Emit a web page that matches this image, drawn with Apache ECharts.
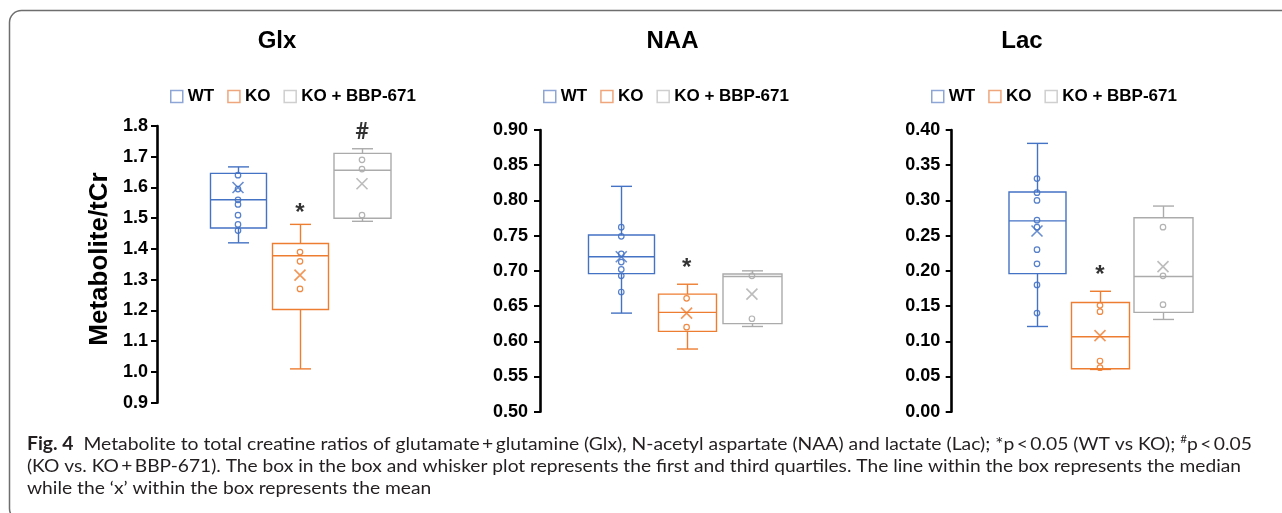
<!DOCTYPE html>
<html>
<head>
<meta charset="utf-8">
<script src="https://cdn.jsdelivr.net/npm/echarts@6/dist/echarts.min.js"></script>
<style>
html,body{margin:0;padding:0;background:#fff;}
#chart{width:1282px;height:513px;}
</style>
</head>
<body>
<div id="chart"></div>
<script>
// ---------- data ----------
const groups = ['WT', 'KO', 'KO + BBP-671'];
const panelTitles = ['Glx', 'NAA', 'Lac'];

// box stats: [min, Q1, median, Q3, max] per group
const glxBox = [[1.42, 1.468, 1.56, 1.646, 1.667], [1.01, 1.203, 1.378, 1.418, 1.48], [1.49, 1.50, 1.656, 1.711, 1.726]];
const glxMean = [1.60, 1.315, 1.612];
const glxPtsWT = [1.64, 1.595, 1.56, 1.545, 1.51, 1.48, 1.46];
const glxPtsKO = [1.39, 1.36, 1.27];
const glxPtsBBP = [1.69, 1.66, 1.51];

const naaBox = [[0.64, 0.696, 0.72, 0.751, 0.82], [0.589, 0.614, 0.641, 0.667, 0.681], [0.621, 0.625, 0.692, 0.6955, 0.70]];
const naaMean = [0.72, 0.64, 0.667];
const naaPtsWT = [0.762, 0.749, 0.724, 0.7125, 0.702, 0.693, 0.67];
const naaPtsKO = [0.661, 0.62];
const naaPtsBBP = [0.693, 0.632];

const lacBox = [[0.121, 0.196, 0.271, 0.312, 0.381], [0.06, 0.061, 0.1065, 0.155, 0.171], [0.131, 0.141, 0.192, 0.2755, 0.292]];
const lacMean = [0.2566, 0.108, 0.206];
const lacPtsWT = [0.331, 0.311, 0.30, 0.272, 0.262, 0.23, 0.21, 0.18, 0.14];
const lacPtsKO = [0.151, 0.142, 0.072, 0.0625];
const lacPtsBBP = [0.262, 0.193, 0.152];

// significance marks: [group index, value, symbol]
const glxMarks = [[1, 1.533, '*'], [2, 1.777, '#']];
const naaMarks = [[1, 0.711, '*']];
const lacMarks = [[1, 0.20, '*']];

// y axis ticks
const glxTicks = { min: 0.9, max: 1.8, interval: 0.1, digits: 1 };
const naaTicks = { min: 0.5, max: 0.9, interval: 0.05, digits: 2 };
const lacTicks = { min: 0.0, max: 0.4, interval: 0.05, digits: 2 };

const yName = 'Metabolite/tCr';
const capLine1a = 'Fig. 4';
const capLine1b = '  Metabolite to total creatine ratios of glutamate\u2009+\u2009glutamine (Glx), N-acetyl aspartate (NAA) and lactate (Lac); *p\u2009<\u20090.05 (WT vs KO); ';
const capLine1c = '#';
const capLine1d = 'p\u2009<\u20090.05';
const capLine2 = '(KO vs. KO\u2009+\u2009BBP-671). The box in the box and whisker plot represents the first and third quartiles. The line within the box represents the median';
const capLine3 = 'while the \u2018x\u2019 within the box represents the mean';

// ---------- layout / style ----------
const boxes = [glxBox, naaBox, lacBox];
const means = [glxMean, naaMean, lacMean];
const pts = [[glxPtsWT, glxPtsKO, glxPtsBBP], [naaPtsWT, naaPtsKO, naaPtsBBP], [lacPtsWT, lacPtsKO, lacPtsBBP]];
const marks = [glxMarks, naaMarks, lacMarks];
const ticks = [glxTicks, naaTicks, lacTicks];

const colors = ['#4472C4', '#ED7D31', '#ABABAB'];
const legendColors = ['#8EA6D6', '#EFA67C', '#CFCFCF'];
const FF = '"Liberation Sans", Arial, sans-serif';

const grids = [
  { left: 207, top: 126, width: 186, height: 276.7, offset: 50, margin: 9, legendLeft: 165, titleX: 277, boxW: [56, 56, 57] },
  { left: 588.6, top: 130, width: 196, height: 281.7, offset: 48.6, margin: 12, legendLeft: 538, titleX: 672.5, boxW: [66, 58, 59] },
  { left: 1005.5, top: 130, width: 189, height: 281.7, offset: 53.8, margin: 11.5, legendLeft: 926, titleX: 1022, boxW: [57, 58, 59] }
];
const capW = 21;

function boxRenderer(bw, color) {
  return function (params, api) {
    const k = api.value(0);
    const pMin = api.coord([k, api.value(1)]);
    const pQ1 = api.coord([k, api.value(2)]);
    const pMed = api.coord([k, api.value(3)]);
    const pQ3 = api.coord([k, api.value(4)]);
    const pMax = api.coord([k, api.value(5)]);
    const x = Math.round(pMed[0]) + 0.5;
    const ls = { stroke: color, lineWidth: 1.4, fill: null };
    return {
      type: 'group',
      children: [
        { type: 'line', shape: { x1: x, y1: pQ3[1], x2: x, y2: pMax[1] }, style: ls },
        { type: 'line', shape: { x1: x, y1: pQ1[1], x2: x, y2: pMin[1] }, style: ls },
        { type: 'line', shape: { x1: x - capW / 2, y1: pMax[1], x2: x + capW / 2, y2: pMax[1] }, style: ls },
        { type: 'line', shape: { x1: x - capW / 2, y1: pMin[1], x2: x + capW / 2, y2: pMin[1] }, style: ls },
        { type: 'rect', shape: { x: x - bw / 2, y: pQ3[1], width: bw, height: pQ1[1] - pQ3[1] }, style: { stroke: color, lineWidth: 1.4, fill: '#fff' } },
        { type: 'line', shape: { x1: x - bw / 2, y1: pMed[1], x2: x + bw / 2, y2: pMed[1] }, style: ls }
      ]
    };
  };
}

const xAxes = [], yAxes = [], series = [], legends = [], graphics = [];

grids.forEach((g, p) => {
  for (let k = 0; k < 3; k++) {
    xAxes.push({ type: 'category', gridIndex: p, data: groups, show: false, boundaryGap: true });
  }
  const t = ticks[p];
  yAxes.push({
    type: 'value', gridIndex: p, min: t.min, max: t.max, interval: t.interval,
    offset: g.offset,
    axisLine: { show: true, onZero: false, lineStyle: { color: '#000', width: 2.6 } },
    axisTick: { show: true, length: 6, lineStyle: { color: '#000', width: 2 } },
    splitLine: { show: false },
    axisLabel: {
      color: '#000', fontSize: 18, fontWeight: 'bold', fontFamily: FF, margin: g.margin,
      formatter: v => Number(v).toFixed(t.digits)
    }
  });
  legends.push({
    left: g.legendLeft, top: 83, itemWidth: 12, itemHeight: 12, itemGap: 13, icon: 'rect',
    selectedMode: false,
    textStyle: { fontSize: 17, fontWeight: 'bold', color: '#000', fontFamily: FF },
    data: groups.map((name, k) => ({ name, itemStyle: { color: '#fff', borderColor: legendColors[k], borderWidth: 1.5 } }))
  });
  for (let k = 0; k < 3; k++) {
    series.push({
      type: 'custom', name: groups[k], xAxisIndex: 3 * p + k, yAxisIndex: p,
      data: [[k].concat(boxes[p][k])],
      encode: { x: 0, y: [1, 2, 3, 4, 5] },
      renderItem: boxRenderer(g.boxW[k], colors[k]),
      itemStyle: { color: '#fff', borderColor: colors[k] },
      silent: true, z: 2
    });
  }
  for (let k = 0; k < 3; k++) {
    series.push({
      type: 'scatter', name: groups[k] + ' points', xAxisIndex: 3 * p + k, yAxisIndex: p,
      data: pts[p][k].map(v => [k, v]),
      symbol: 'circle', symbolSize: 5.5,
      itemStyle: { color: 'rgba(255,255,255,0)', borderColor: colors[k], borderWidth: 1.2, opacity: 0.9 },
      emphasis: { disabled: true }, silent: true, z: 4
    });
    series.push({
      type: 'scatter', name: groups[k] + ' mean', xAxisIndex: 3 * p + k, yAxisIndex: p,
      data: [[k, means[p][k]]],
      symbol: 'path://M0 0L10 10M10 0L0 10', symbolSize: 11,
      itemStyle: { color: 'rgba(255,255,255,0)', borderColor: colors[k], borderWidth: 1.6 },
      emphasis: { disabled: true }, silent: true, z: 5
    });
  }
  series.push({
    type: 'scatter', name: 'sig', xAxisIndex: 3 * p, yAxisIndex: p,
    symbolSize: 1, itemStyle: { color: 'rgba(0,0,0,0)' }, silent: true, z: 6,
    data: marks[p].map(m => ({
      value: [m[0], m[1]],
      label: { show: true, position: 'inside', formatter: m[2], offset: [0, m[2] === '*' ? 5 : 0],
        fontSize: m[2] === '*' ? 24 : 23, fontWeight: 'bold', color: '#000',
        fontFamily: m[2] === '#' ? 'Roboto, "Noto Sans", sans-serif' : FF }
    }))
  });
  graphics.push({
    type: 'text', x: g.titleX, y: 41,
    style: { text: panelTitles[p], fontSize: 24, fontWeight: 'bold', fontFamily: FF, fill: '#000', align: 'center', verticalAlign: 'middle' }
  });
});

// y axis title
graphics.push({
  type: 'text', x: 100, y: 259, rotation: Math.PI / 2,
  style: { text: yName, fontSize: 26, fontWeight: 'bold', fontFamily: FF, fill: '#000', align: 'center', verticalAlign: 'middle' }
});

// frame
graphics.push({
  type: 'rect', shape: { x: 9.5, y: 10.5, width: 1300, height: 510, r: 12 },
  style: { fill: 'none', stroke: '#6E6E6E', lineWidth: 1.5 }, silent: true
});

// caption
const CF = 'Lato, "Open Sans", sans-serif';
const CS = 18;
const mctx = document.createElement('canvas').getContext('2d');
function tw(txt, weight, size) { mctx.font = weight + ' ' + size + 'px ' + CF; return mctx.measureText(txt).width; }
const w1 = tw(capLine1a, 'bold', CS) + tw(capLine1b, 'normal', CS) + tw(capLine1c, 'normal', 11) + tw(capLine1d, 'normal', CS);
const w2 = tw(capLine2, 'normal', CS);
const s1 = 1225 / w1, s2 = 1214 / w2, s3 = (s1 + s2) / 2;
const capColor = '#231F20';
const rich = {
  b: { fontFamily: CF, fontSize: CS, fontWeight: 'bold', fill: capColor, lineHeight: 22 },
  n: { fontFamily: CF, fontSize: CS, fill: capColor, lineHeight: 22 },
  s: { fontFamily: CF, fontSize: 11, fill: capColor, lineHeight: 22, verticalAlign: 'top' }
};
graphics.push({
  type: 'text', x: 27, y: 444.5, scaleX: s1,
  style: { text: '{b|' + capLine1a + '}{n|' + capLine1b + '}{s|' + capLine1c + '}{n|' + capLine1d + '}', rich, verticalAlign: 'middle', align: 'left', fontFamily: CF, fontSize: CS }
});
graphics.push({
  type: 'text', x: 27, y: 466.5, scaleX: s2,
  style: { text: capLine2, fontFamily: CF, fontSize: CS, fill: capColor, verticalAlign: 'middle', align: 'left' }
});
graphics.push({
  type: 'text', x: 27, y: 488, scaleX: s3,
  style: { text: capLine3, fontFamily: CF, fontSize: CS, fill: capColor, verticalAlign: 'middle', align: 'left' }
});

const chart = echarts.init(document.getElementById('chart'), null, { renderer: 'canvas' });
chart.setOption({
  backgroundColor: '#fff',
  animation: false,
  grid: grids.map(g => ({ left: g.left, top: g.top, width: g.width, height: g.height, outerBoundsMode: 'none' })),
  xAxis: xAxes,
  yAxis: yAxes,
  legend: legends,
  series,
  graphic: graphics
});
</script>
</body>
</html>
